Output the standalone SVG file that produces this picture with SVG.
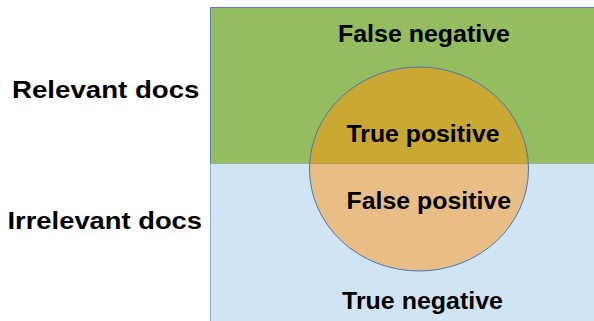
<svg xmlns="http://www.w3.org/2000/svg" width="594" height="321" viewBox="0 0 594 321">
  <style>
    .lbl { font-family: "Liberation Sans", Arial, sans-serif; font-weight: bold; fill: #000; }
    .zone { font-size: 23px; }
    .side { font-size: 24px; }
  </style>
  <defs>
    <clipPath id="upper"><rect x="0" y="0" width="594" height="163.5"/></clipPath>
    <clipPath id="lower"><rect x="0" y="163.5" width="594" height="160"/></clipPath>
  </defs>

  <rect width="594" height="321" fill="#ffffff"/>

  <!-- document set: relevant (top) and irrelevant (bottom) -->
  <g id="relevant">
    <rect x="210.5" y="163.5" width="390" height="160" fill="#d0e5f4" stroke="#8fb0dd" stroke-width="1"/>
    <rect x="210.5" y="7.5" width="390" height="156" fill="#94bd5f"/>
    <path d="M210.5 163.5 V7.5 H594" fill="none" stroke="#5a7fc0" stroke-width="1"/>
  </g>

  <!-- retrieved set -->
  <g id="retrieved">
    <ellipse cx="419" cy="169" rx="109.5" ry="102" fill="#c9a834" clip-path="url(#upper)"/>
    <ellipse cx="419" cy="169" rx="109.5" ry="102" fill="#e8be86" clip-path="url(#lower)"/>
    <line x1="310" y1="163.5" x2="528" y2="163.5" stroke="#b99a55" stroke-width="1"/>
    <ellipse cx="419" cy="169" rx="109.5" ry="102" fill="none" stroke="#4a74c0" stroke-width="1"/>
  </g>

  <g id="labels">
    <text class="lbl zone" x="338" y="42.3" textLength="172" lengthAdjust="spacingAndGlyphs">False negative</text>
    <text class="lbl zone" x="346.5" y="142.3" textLength="153" lengthAdjust="spacingAndGlyphs">True positive</text>
    <text class="lbl zone" x="346.5" y="209.3" textLength="164.5" lengthAdjust="spacingAndGlyphs">False positive</text>
    <text class="lbl zone" x="342" y="309" textLength="161" lengthAdjust="spacingAndGlyphs">True negative</text>
    <text class="lbl side" x="12" y="98.3" textLength="187.5" lengthAdjust="spacingAndGlyphs">Relevant docs</text>
    <text class="lbl side" x="7.5" y="229.3" textLength="194.5" lengthAdjust="spacingAndGlyphs">Irrelevant docs</text>
  </g>
</svg>
